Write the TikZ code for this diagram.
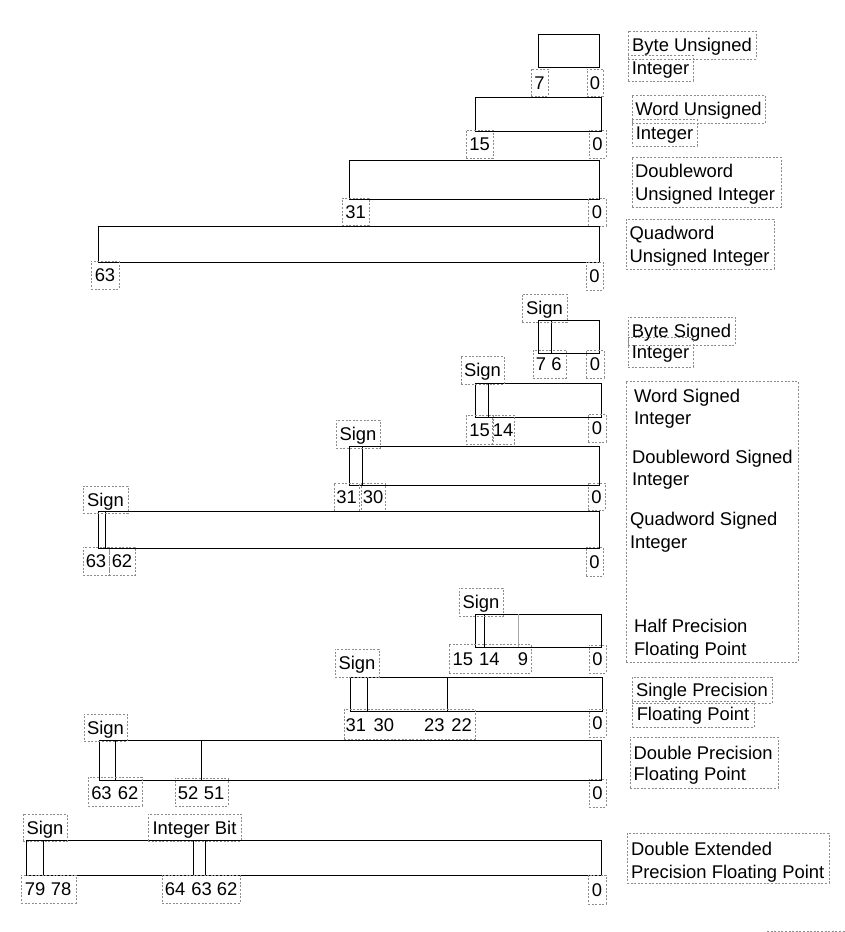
\documentclass[tikz,border=0pt]{standalone}
\usepackage{fontspec}
\setmainfont{Liberation Sans}
\usetikzlibrary{fit}
\tikzset{
 bx/.style={draw=black, line width=1pt, inner sep=0pt, outer sep=0pt},
 dvl/.style={draw=black, line width=1pt},
 gdvl/.style={draw=gray!70, line width=1pt},
 dbx/.style={draw=gray!90, line width=0.8pt, dash pattern=on 2pt off 1.6pt, inner sep=0pt, outer sep=0pt},
 txt/.style={inner sep=0pt, outer sep=0pt, text=black},
}
\newcommand\dlab[6]{\node[dbx, fit={(#2,#3) (#4,#5)}] (#1) {};
  \node[txt, anchor=base] (#1t) at ({(#2+#4)/2},{(#3+#5)/2+6.6}) {#6};}
\newcommand\dbox[5]{\node[dbx, fit={(#2,#3) (#4,#5)}] (#1) {};}
\newcommand\ltxt[4]{\node[txt, anchor=base west] (#1) at (#2,#3) {#4};}
\newcommand\ctxt[4]{\node[txt, anchor=base] (#1) at (#2,#3) {#4};}
\newcommand\sbx[5]{\node[bx, fit={(#2,#3) (#4,#5)}] (#1) {};}
\begin{document}
\begin{tikzpicture}[x=1pt, y=-1pt, font=\fontsize{18.4}{22}\selectfont]
\fill[white] (0,0) rectangle (845,932);
\useasboundingbox (0,0) rectangle (845,932);

% ---------- Unsigned integers ----------
\sbx{byteU}{538}{34}{599}{67}
\dlab{byteU7}{531}{69}{548}{96}{7}
\dlab{byteU0}{587}{69}{603}{96}{0}
\dlab{byteUa}{628}{31}{756}{59}{Byte Unsigned}
\dlab{byteUb}{628}{55}{693}{81}{Integer}

\sbx{wordU}{475}{97}{601}{131}
\dlab{wordU15}{466}{130}{493}{158}{15}
\dlab{wordU0}{589}{130}{606}{158}{0}
\dlab{wordUa}{632}{95}{765}{123}{Word Unsigned}
\dlab{wordUb}{632}{119}{697}{146}{Integer}

\sbx{dwU}{349}{160}{599}{199}
\dlab{dwU31}{342}{198}{369}{225}{31}
\dlab{dwU0}{588}{198}{606}{226}{0}
\dbox{dwUl}{632}{157}{781}{207}
\ltxt{dwUa}{635}{177.7}{Doubleword}
\ltxt{dwUb}{635}{200}{Unsigned Integer}

\sbx{qwU}{98}{226}{599}{262}
\dlab{qwU63}{91}{261}{119}{289}{63}
\dlab{qwU0}{586}{262}{603}{290}{0}
\dbox{qwUl}{626}{219}{774}{269}
\ltxt{qwUa}{629.5}{239.7}{Quadword}
\ltxt{qwUb}{629.5}{262}{Unsigned Integer}

% ---------- Signed integers ----------
\sbx{byteS}{538}{320}{599}{353}
\draw[dvl] (551,320) -- (551,353);
\dlab{byteSs}{522}{294}{567}{322}{Sign}
\dbox{byteS76}{533}{350}{566}{378}
\ctxt{byteS7}{541}{370.5}{7}
\ctxt{byteS6}{556.5}{370.5}{6}
\dlab{byteS0}{586}{350}{604}{378}{0}
\dlab{byteSa}{628}{317}{735}{345}{Byte Signed}
\dlab{byteSb}{628}{337}{693}{367}{Integer}

\sbx{wordS}{475}{383}{601}{417}
\draw[dvl] (488,383) -- (488,417);
\dlab{wordSs}{461}{356}{504}{384}{Sign}
\dlab{wordS15}{466}{415}{493}{444}{15}
\dlab{wordS14}{492}{415}{514}{444}{14}
\dlab{wordS0}{588}{414}{606}{442}{0}

\sbx{dwS}{349}{446}{599}{485}
\draw[dvl] (362,446) -- (362,485);
\dlab{dwSs}{336}{420}{380}{448}{Sign}
\dlab{dwS31}{334}{483}{359}{511}{31}
\dlab{dwS30}{361}{483}{385}{511}{30}
\dlab{dwS0}{588}{483}{605}{510}{0}

\sbx{qwS}{98}{511}{599}{548}
\draw[dvl] (105,511) -- (105,548);
\dlab{qwSs}{83}{486}{128}{513}{Sign}
\dlab{qwS63}{83}{547}{109}{575}{63}
\dlab{qwS62}{109}{547}{135}{575}{62}
\dlab{qwS0}{586}{547}{603}{576}{0}

\dbox{bigl}{626}{381}{798}{662}
\ltxt{wordSa}{634}{402}{Word Signed}
\ltxt{wordSb}{634}{424}{Integer}
\ltxt{dwSa}{632}{463.3}{Doubleword Signed}
\ltxt{dwSb}{632}{485.5}{Integer}
\ltxt{qwSa}{630}{525.5}{Quadword Signed}
\ltxt{qwSb}{630}{548}{Integer}
\ltxt{halfa}{634}{632.3}{Half Precision}
\ltxt{halfb}{634}{655.5}{Floating Point}

% ---------- Floating point ----------
\sbx{half}{475}{614}{601.5}{647}
\draw[dvl] (484,614) -- (484,647);
\draw[gdvl] (518.7,614) -- (518.7,647);
\dlab{halfs}{459}{588}{503}{616}{Sign}
\dbox{halfn}{449}{644}{531}{673}
\ctxt{half15}{462.8}{665.5}{15}
\ctxt{half14}{489.3}{665.5}{14}
\ctxt{half9}{523}{665.5}{9}
\dlab{half0}{589}{645}{606}{673}{0}

\sbx{single}{350.5}{677}{602}{711}
\draw[dvl] (367.3,677) -- (367.3,711);
\draw[dvl] (447.3,677) -- (447.3,711);
\dlab{singles}{335}{649}{379}{677}{Sign}
\dbox{singlen}{344}{709}{475}{739}
\ctxt{single31}{355.8}{731}{31}
\ctxt{single30}{383.8}{731}{30}
\ctxt{single23}{434.3}{731}{23}
\ctxt{single22}{461.7}{731}{22}
\dlab{single0}{589}{709}{606}{737}{0}
\dlab{singlea}{632}{677}{772}{703}{Single Precision}
\dlab{singleb}{632}{701}{754}{727}{Floating Point}

\sbx{double}{99.5}{740}{601.5}{780}
\draw[dvl] (115.3,740) -- (115.3,780);
\draw[dvl] (201.3,740) -- (201.3,780);
\dlab{doubles}{84}{714}{127}{741}{Sign}
\dbox{doublen1}{88}{777}{142}{806}
\ctxt{double63}{101.5}{799}{63}
\ctxt{double62}{128.2}{799}{62}
\dbox{doublen2}{175}{778}{228}{806}
\ctxt{double52}{188.2}{799}{52}
\ctxt{double51}{214.2}{799}{51}
\dlab{double0}{589}{779}{606}{807}{0}
\dbox{doublel}{630}{737}{778}{788}
\ltxt{doublea}{633.5}{759}{Double Precision}
\ltxt{doubleb}{633.5}{780.3}{Floating Point}

\sbx{dext}{26}{840}{601.5}{875}
\draw[dvl] (43.3,840) -- (43.3,875);
\draw[dvl] (193.3,840) -- (193.3,875);
\draw[dvl] (205.3,840) -- (205.3,875);
\dlab{dexts}{23}{814}{67}{841}{Sign}
\dlab{dexti}{148}{814}{241}{841}{Integer Bit}
\dbox{dextn1}{21}{875}{76}{903}
\ctxt{dext79}{35.2}{895.7}{79}
\ctxt{dext78}{61.2}{895.7}{78}
\dbox{dextn2}{162}{875}{240}{903}
\ctxt{dext64}{175.2}{895.7}{64}
\ctxt{dext63}{201.7}{895.7}{63}
\ctxt{dext62}{227.2}{895.7}{62}
\dlab{dext0}{588}{875}{606}{904}{0}
\dbox{dextl}{627}{833}{829}{883}
\ltxt{dexta}{631}{855.7}{Double Extended}
\ltxt{dextb}{631}{878}{Precision Floating Point}

\coordinate (strayA) at (767,931);
\coordinate (strayB) at (845,931);
\draw[dbx] (strayA) -- (strayB);
\end{tikzpicture}
\end{document}
